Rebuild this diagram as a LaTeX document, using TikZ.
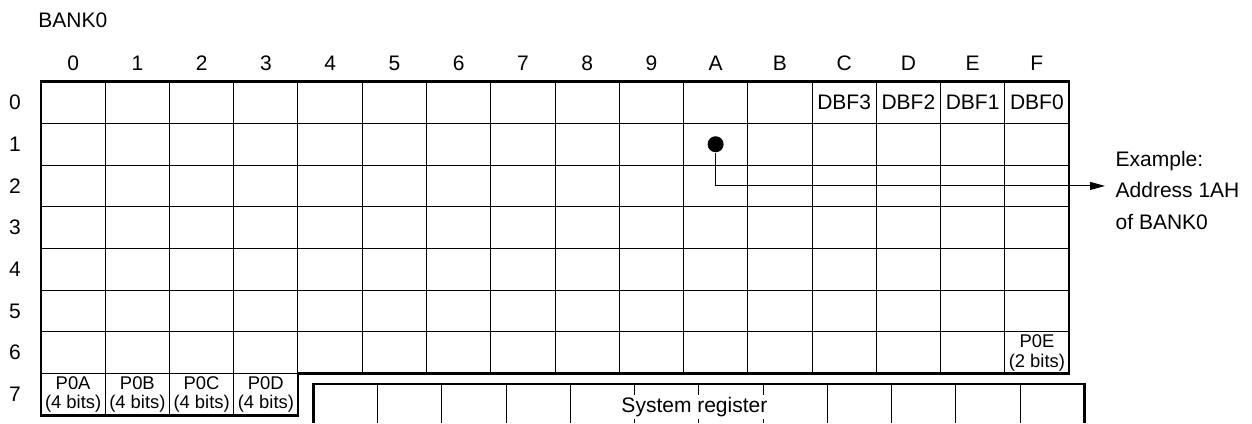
\documentclass[tikz,border=0pt]{standalone}
\usepackage{fontspec}
\setmainfont{Liberation Sans}
\usetikzlibrary{arrows.meta}

\begin{document}
\begin{tikzpicture}[
    x=32.125pt, y=-20.85pt,
    every node/.style={font=\fontsize{10.5pt}{12pt}\selectfont, inner sep=0pt},
    frame/.style={line width=1.4pt},
    cell/.style={line width=0.5pt},
    small/.style={font=\fontsize{9.2pt}{9.8pt}\selectfont, align=center}
    ]
    \useasboundingbox (-0.638,-1.959) rectangle (18.848,8.185);

    % BANK0 title
    \node (bank) [anchor=west] at (-0.047,-1.463) {BANK0};

    % column and row headers
    \foreach \c [count=\i from 0] in {0,1,2,3,4,5,6,7,8,9,A,B,C,D,E,F}
        \node (col\i) at (\i+0.5,-0.44) {\c};
    \foreach \r in {0,...,7}
        \node (row\r) at (-0.405,\r+0.5) {\r};

    % cell lines
    \foreach \i in {1,...,15}
        \draw[cell] (\i,0) -- (\i,7);
    \foreach \i in {1,2,3}
        \draw[cell] (\i,7) -- (\i,8);
    \foreach \r in {1,...,6}
        \draw[cell] (0,\r) -- (16,\r);
    \draw[cell] (0,7) -- (4,7);

    % outline of BANK0
    \draw[frame] (0,0) -- (16,0) -- (16,7) -- (4,7) -- (4,8) -- (0,8) -- cycle;

    % cell contents
    \node (dbf3) at (12.5,0.5) {DBF3};
    \node (dbf2) at (13.5,0.5) {DBF2};
    \node (dbf1) at (14.5,0.5) {DBF1};
    \node (dbf0) at (15.5,0.5) {DBF0};
    \node (p0e) [small] at (15.5,6.5) {P0E\\(2 bits)};
    \node (p0a) [small] at (0.5,7.5) {P0A\\(4 bits)};
    \node (p0b) [small] at (1.5,7.5) {P0B\\(4 bits)};
    \node (p0c) [small] at (2.5,7.5) {P0C\\(4 bits)};
    \node (p0d) [small] at (3.5,7.5) {P0D\\(4 bits)};

    % system register (cut off below)
    \draw[frame] (4.24,8.185) -- (4.24,7.25) -- (16.24,7.25) -- (16.24,8.185);
    \foreach \i in {5,...,15}
        \draw[cell] (\i+0.24,7.25) -- (\i+0.24,8.185);
    \node (sysreg) [fill=white, inner sep=1pt] at (10.17,7.8) {System register};

    % example address
    \node (dot) [circle, fill, minimum size=8pt] at (10.5,1.5) {};
    \coordinate (tip) at (16.56,2.5);
    \node (example) [anchor=west, align=left, font=\fontsize{10.5pt}{15.75pt}\selectfont] at (16.72,2.6) {Example:\\Address 1AH\\of BANK0};
    \draw[cell, -{Triangle[length=7.5pt, width=4pt]}] (dot) |- (tip);
\end{tikzpicture}
\end{document}
